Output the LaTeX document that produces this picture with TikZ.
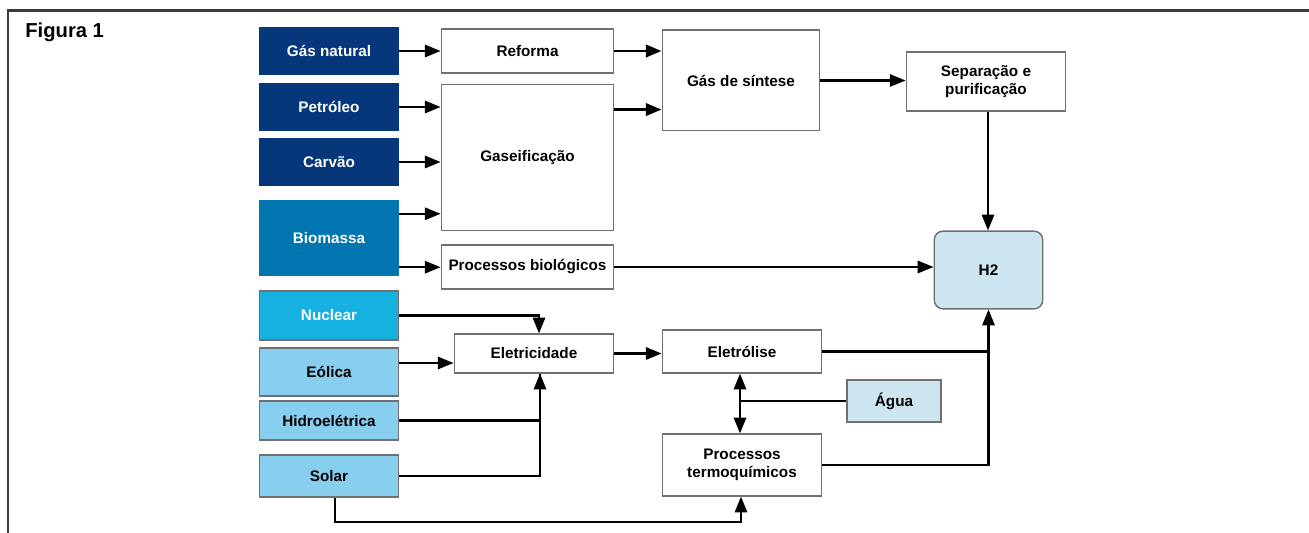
\documentclass[tikz,border=0pt]{standalone}
\usepackage{fontspec}
\setmainfont{Liberation Sans}
\usetikzlibrary{arrows.meta,calc}
\definecolor{dblue}{HTML}{06377A}
\definecolor{mblue}{HTML}{0075B0}
\definecolor{nblue}{HTML}{16B1E0}
\definecolor{lblue}{HTML}{87CEEF}
\definecolor{pblue}{HTML}{CCE5F0}
\definecolor{bgray}{HTML}{707070}
\newcommand\bx[7]{\node[#1, minimum width={(#4-#2)*0.5669pt}, minimum height={(#5-#3)*0.5669pt}] (#6) at ({(#2+#4)/2},{(#3+#5)/2}) {#7};}
\tikzset{
  base/.style={inner sep=0pt, align=center, font=\fontsize{8.7}{10.6}\selectfont\bfseries},
  srcdark/.style={base, fill=dblue, text=white},
  srcmid/.style={base, fill=mblue, text=white},
  srcnuc/.style={base, fill=nblue, text=white, draw=bgray, line width=0.8pt},
  srclight/.style={base, fill=lblue, text=black, draw=bgray, line width=0.8pt},
  procbox/.style={base, fill=white, draw=bgray, line width=0.8pt},
  pale/.style={base, fill=pblue, draw=bgray, line width=0.8pt},
  h2box/.style={base, fill=pblue, draw=bgray, line width=0.8pt, rounded corners=5pt},
  conn/.style={line width=1.25pt, black},
  tip/.tip={Triangle[length=9pt,width=7pt]},
  arr/.style={conn, -tip},
  darr/.style={conn, tip-tip},
  frame/.style={line width=1.2pt, draw={rgb,255:red,60;green,60;blue,60}}
}
\begin{document}
\begin{tikzpicture}[x=0.02cm, y=-0.02cm]
\useasboundingbox (0,0) rectangle (1309,533);
\draw[frame] (8,533) -- (8,10.5) -- (1309,10.5);
\node[anchor=west, inner sep=0pt, font=\fontsize{11.5}{13}\selectfont\bfseries] (fig) at (25,32) {Figura 1};

\bx{srcdark}{259}{27}{399}{75}{gn}{Gás natural}
\bx{srcdark}{259}{83}{399}{131}{pet}{Petróleo}
\bx{srcdark}{259}{138}{399}{186}{car}{Carvão}
\bx{srcmid}{259}{200}{399}{276}{bio}{Biomassa}
\bx{srcnuc}{259}{291}{399}{340}{nuc}{Nuclear}
\bx{srclight}{259}{348}{399}{396}{eol}{Eólica}
\bx{srclight}{259}{401}{399}{440}{hid}{Hidroelétrica}
\bx{srclight}{259}{455}{399}{497}{sol}{Solar}

\bx{procbox}{441}{29}{614}{73}{ref}{Reforma}
\bx{procbox}{441}{84}{614}{231}{gas}{Gaseificação}
\bx{procbox}{441}{245}{614}{289}{pb}{Processos biológicos}
\bx{procbox}{662}{30}{820}{131}{gs}{Gás de síntese}
\bx{procbox}{906}{52}{1066}{111}{sep}{Separação e\\purificação}
\bx{h2box}{934}{231}{1043}{309}{h2}{H2}
\bx{procbox}{454}{334}{614}{373}{ele}{Eletricidade}
\bx{procbox}{662}{330}{822}{373}{elt}{Eletrólise}
\bx{pale}{847}{380}{941}{422}{agua}{Água}
\bx{procbox}{662}{434}{822}{496}{tq}{Processos\\termoquímicos}

% helper coordinates
\coordinate (b1) at ($(bio.north east)+(0,14)$);
\coordinate (b2) at ($(bio.south east)+(0,-9)$);
\coordinate (g1) at ($(gas.north east)+(0,26)$);
\coordinate (s1) at ($(sep.south)+(2,0)$);
\coordinate (e1) at ($(eol.east)+(0,-9)$);
\coordinate (elein) at ($(ele.north)+(5,0)$);
\coordinate (elebot) at ($(ele.south)+(6,0)$);
\coordinate (so1) at ($(sol.south)+(6,0)$);
\coordinate (tqin) at ($(tq.south)+(-1,0)$);
\coordinate (eltb) at ($(elt.south)+(-2,0)$);
\coordinate (tqt) at ($(tq.north)+(-2,0)$);

% fossil / biomass
\draw[arr] (gn.east) -- (ref.west);
\draw[arr] (pet.east) -- (pet.east -| gas.west);
\draw[arr] (car.east) -- (car.east -| gas.west);
\draw[arr] (b1) -- (b1 -| gas.west);
\draw[arr] (b2) -- (b2 -| pb.west);
\draw[arr, line width=1.7pt] (ref.east) -- (ref.east -| gs.west);
\draw[arr, line width=1.7pt] (g1) -- (g1 -| gs.west);
\draw[arr] (gs.east) -- (gs.east -| sep.west);
\draw[arr] (s1) -- (s1 |- h2.north);
\draw[arr] (pb.east) -- (pb.east -| h2.west);

% electricity
\draw[arr] (nuc.east) -| (elein);
\draw[arr] (e1) -- (e1 -| ele.west);
\draw[arr] (hid.east) -| (elebot);
\draw[conn] (sol.east) -| (elebot);
\draw[arr] (so1) -- ++(0,24) -| (tqin);
\draw[arr] (ele.east) -- (ele.east -| elt.west);

% electrolysis / thermochemical
\coordinate (jn) at (elt.east -| h2.south);
\draw[arr] (elt.east) -| (h2.south);
\draw[conn] (tq.east) -| (jn);
\draw[conn] (agua.west) -- (agua.west -| eltb);
\draw[darr] (eltb) -- (tqt);
\end{tikzpicture}
\end{document}
